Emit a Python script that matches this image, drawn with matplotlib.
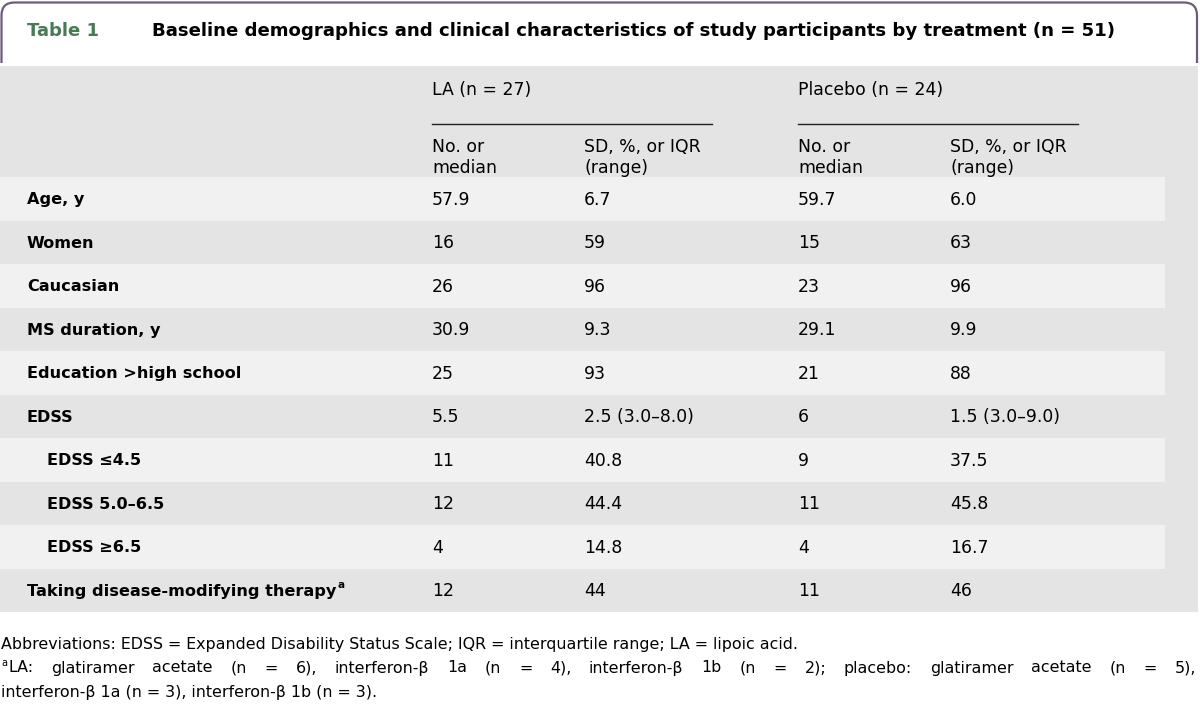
import matplotlib
matplotlib.use("Agg")
import matplotlib.pyplot as plt
from matplotlib.patches import Rectangle, FancyBboxPatch

plt.rcParams['font.family'] = ['DejaVu Sans']

# ---------- table content
title_tag = "Table 1"
title = "Baseline demographics and clinical characteristics of study participants by treatment (n = 51)"
groups = ["LA (n = 27)", "Placebo (n = 24)"]
sub_cols = [["No. or", "median"], ["SD, %, or IQR", "(range)"]]

labels = ["Age, y", "Women", "Caucasian", "MS duration, y", "Education >high school",
          "EDSS", "EDSS ≤4.5", "EDSS 5.0–6.5", "EDSS ≥6.5",
          "Taking disease-modifying therapy"]
indent = [0, 0, 0, 0, 0, 0, 1, 1, 1, 0]
la_no = ["57.9", "16", "26", "30.9", "25", "5.5", "11", "12", "4", "12"]
la_sd = ["6.7", "59", "96", "9.3", "93", "2.5 (3.0–8.0)", "40.8", "44.4", "14.8", "44"]
pl_no = ["59.7", "15", "23", "29.1", "21", "6", "9", "11", "4", "11"]
pl_sd = ["6.0", "63", "96", "9.9", "88", "1.5 (3.0–9.0)", "37.5", "45.8", "16.7", "46"]

foot1 = "Abbreviations: EDSS = Expanded Disability Status Scale; IQR = interquartile range; LA = lipoic acid."
foot2 = "LA: glatiramer acetate (n = 6), interferon-β 1a (n = 4), interferon-β 1b (n = 2); placebo: glatiramer acetate (n = 5),"
foot3 = "interferon-β 1a (n = 3), interferon-β 1b (n = 3)."

# ---------- colours
purple = '#6c5a7c'
green = '#477a55'
hdr_grey = '#e4e4e4'
row_light = '#f1f1f1'

fig = plt.figure(figsize=(12, 7.13), dpi=100)
ax = fig.add_axes([0, 0, 1, 1])
ax.set_xlim(0, 1200)
ax.set_ylim(713, 0)
ax.axis('off')

# rounded frame round the title (only the top part shows)
frame = FancyBboxPatch((1.5, 2.5), 1195.5, 120, boxstyle="round,pad=0,rounding_size=13",
                       fc='white', ec=purple, lw=1.6)
ax.add_patch(frame)
clip = Rectangle((0, 0), 1200, 63, transform=ax.transData)
frame.set_clip_path(clip)

ax.text(27, 31, title_tag, color=green, fontsize=13, fontweight='bold', va='center')
ax.text(152, 31, title, color='black', fontsize=13.1, fontweight='bold', va='center')

# grey table body
top, row_h = 177, 43.5
n = len(labels)
ax.add_patch(Rectangle((0, 66), 1198, top + n * row_h - 66, fc=hdr_grey, ec='none'))
for i in range(n):
    if i % 2 == 0:
        ax.add_patch(Rectangle((0, top + i * row_h), 1165, row_h, fc=row_light, ec='none'))

col_x = [432, 584, 798, 950]
fs = 12.4
fs_lab = 11.6

# group headers and rules
for g, gx in zip(groups, [col_x[0], col_x[2]]):
    ax.text(gx, 90, g, fontsize=fs, va='center')
    ax.plot([gx, gx + 280], [124, 124], color='#222222', lw=1.0)
for k, cx in enumerate(col_x):
    lines = sub_cols[k % 2]
    ax.text(cx, 147, lines[0], fontsize=fs, va='center')
    ax.text(cx, 168, lines[1], fontsize=fs, va='center')

fig.canvas.draw()
r = fig.canvas.get_renderer()

for i in range(n):
    y = top + (i + 0.5) * row_h + 1
    t = ax.text(27 + 20 * indent[i], y, labels[i], fontsize=fs_lab, fontweight='bold', va='center')
    if i == n - 1:
        bb = t.get_window_extent(r).transformed(ax.transData.inverted())
        ax.text(bb.x1 + 1, y - 6, "a", fontsize=7.5, fontweight='bold', va='center')
    for cx, vals in zip(col_x, [la_no, la_sd, pl_no, pl_sd]):
        ax.text(cx, y, vals[i], fontsize=fs, va='center')


def justify(text, x0, x1, y, size):
    words = text.split(' ')
    objs = [ax.text(0, y, w, fontsize=size, va='center') for w in words]
    widths = []
    for o in objs:
        bb = o.get_window_extent(r).transformed(ax.transData.inverted())
        widths.append(bb.x1 - bb.x0)
    gap = (x1 - x0 - sum(widths)) / (len(words) - 1)
    x = x0
    for o, w in zip(objs, widths):
        o.set_x(x)
        x += w + gap


fs_foot = 11.45
ax.text(1, 645, foot1, fontsize=fs_foot, va='center')
ax.text(1, 663, "a", fontsize=7, va='center')
justify(foot2, 8, 1196, 668, fs_foot)
ax.text(1, 692, foot3, fontsize=fs_foot, va='center')

plt.savefig("out.png", dpi=100)
